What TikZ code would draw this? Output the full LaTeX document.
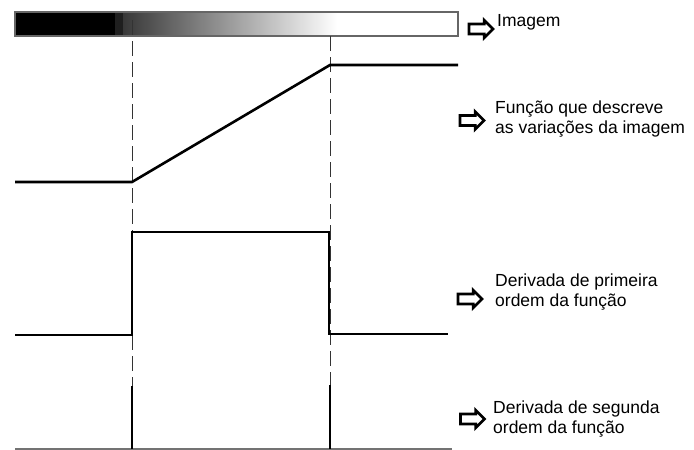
\documentclass[tikz,border=0pt]{standalone}
\usepackage{fontspec}
\setmainfont{Liberation Sans}
\usetikzlibrary{shapes.arrows}

\tikzset{
	curve/.style={line width=2.6pt, line join=miter},
	guide/.style={line width=1pt, color=black!80, dash pattern=on 15pt off 6pt},
	hollowarrow/.style={single arrow, draw, line width=2.8pt, inner sep=0pt, inner ysep=3.6pt,
		single arrow head extend=3.8pt, minimum height=24pt, fill=white},
	labeltext/.style={inner sep=0pt, align=left, font=\fontsize{17.5}{19.5}\selectfont}
}

\begin{document}
\begin{tikzpicture}[x=1pt, y=-1pt]
		%%%%% START %%%%%
		\useasboundingbox (0, 0) rectangle (694, 450);
		
		% image strip
		\fill[black] (15, 12) rectangle (115, 36);
		\fill[black!88] (115, 12) rectangle (123, 36);
		\shade[left color=black!78, right color=white] (123, 12) rectangle (337, 36);
		\draw[line width=1.2pt, color=black!60] (15, 12) rectangle (458, 36);
		
		% edge guides
		\coordinate (edgeAtop) at (132, 20);
		\coordinate (edgeAbot) at (132, 450);
		\coordinate (edgeBtop) at (330, 36);
		\coordinate (edgeBbot) at (330, 450);
		\draw[guide] (edgeAtop) -- (edgeAbot);
		\draw[guide] (edgeBtop) -- (edgeBbot);
		
		% function
		\draw[curve] (15, 182) -- (132, 182) -- (330, 65) -- (458, 65);
		
		% first derivative
		\draw[curve] (15, 335) -- (132, 335) -- (132, 232) -- (329, 232) -- (329, 334) -- (448, 334);
		
		% second derivative
		\draw[line width=1.5pt, color=black!55] (15, 449) -- (452, 449);
		\draw[curve] (132, 386) -- (132, 449);
		\draw[curve] (330, 385) -- (330, 449);
		
		% labels
		\node[hollowarrow] (arrimg) at (478.5, 29) {};
		\node[labeltext, anchor=base west] (txtimg) at (497, 26) {Imagem};
		
		\node[hollowarrow] (arrfun) at (469.5, 120.5) {};
		\node[labeltext, anchor=west] (txtfun) at (495, 119) {Função que descreve\\as variações da imagem};
		
		\node[hollowarrow] (arrdone) at (467.5, 299) {};
		\node[labeltext, anchor=west] (txtdone) at (495, 292) {Derivada de primeira\\ordem da função};
		
		\node[hollowarrow] (arrdtwo) at (470, 419) {};
		\node[labeltext, anchor=west] (txtdtwo) at (493, 419) {Derivada de segunda\\ordem da função};
		
		%%%%% END %%%%%
	\end{tikzpicture}
\end{document}
